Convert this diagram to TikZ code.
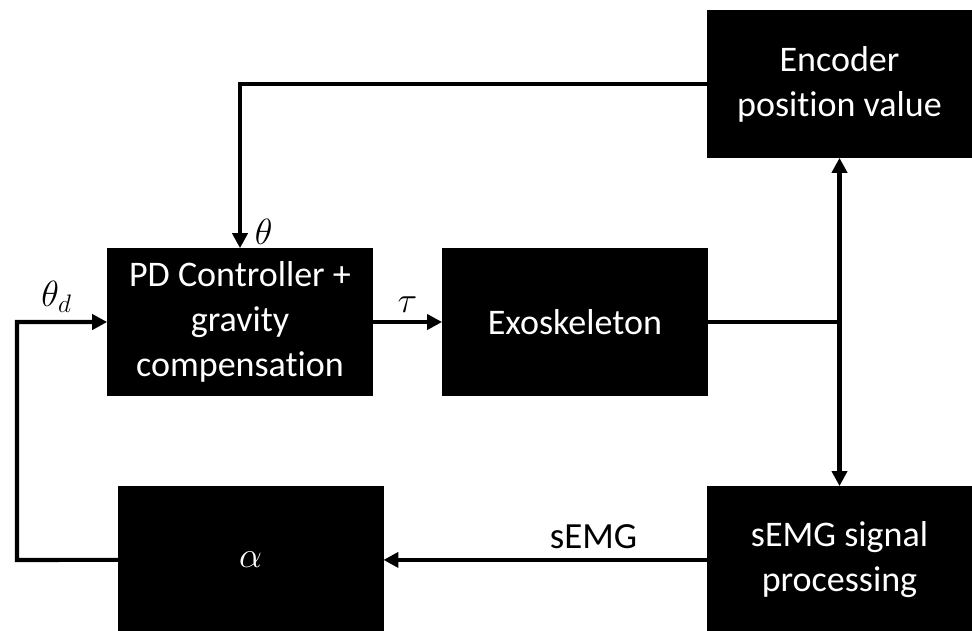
\documentclass[tikz,border=0pt]{standalone}
\usepackage{amsmath}
\usepackage{fontspec}
\setmainfont{Carlito}[Ligatures=NoCommon]
\usetikzlibrary{positioning, arrows.meta, calc}

\tikzset{
    block/.style={draw=black, fill=black, text=white, align=center,
        minimum width=5.3cm, minimum height=2.94cm, inner sep=2pt,
        font=\fontsize{20.5}{25.5}\selectfont},
    sig/.style={line width=2.3pt},
    lbl/.style={font=\fontsize{21}{25}\selectfont}
}

\begin{document}
\begin{tikzpicture}[x=0.02cm, y=-0.02cm, node distance=6.7cm, >={Triangle[length=0.3cm,width=0.3cm]}]
    \clip (0,0) rectangle (972,630);
    \useasboundingbox (0,0) rectangle (972,630);

    \node[block] (pd) at (240,322) {PD Controller +\\gravity\\compensation};
    \node[block] (exo) [right of=pd] {Exoskeleton};
    \node[block] (enc) at (839.5,84) {Encoder\\position value};
    \node[block] (semg) [below of=enc, node distance=9.52cm] {sEMG signal\\processing};
    \node[block] (alpha) [left of=semg, node distance=11.78cm] {$\alpha$};
    \coordinate (split) at (exo -| enc);
    \coordinate (back) at (17,560);

    % forward path
    \draw[sig, ->] (pd) -- node[lbl, above=1pt] {$\tau$} (exo);
    \draw[sig] (exo) -- (split);
    \draw[sig, <->] (enc) -- (semg);

    % feedback
    \draw[sig, ->] (enc.west) -| node[lbl, pos=0.95, right=4pt] {$\theta$} (pd.north);
    \draw[sig, ->] (semg) -- node[lbl, pos=0.35, above=2pt] {sEMG} (alpha);
    \draw[sig, ->, line join=miter] (alpha.west) -- (back) |- node[lbl, pos=0.72, above=1pt] {$\theta_d$} (pd.west);
\end{tikzpicture}
\end{document}
